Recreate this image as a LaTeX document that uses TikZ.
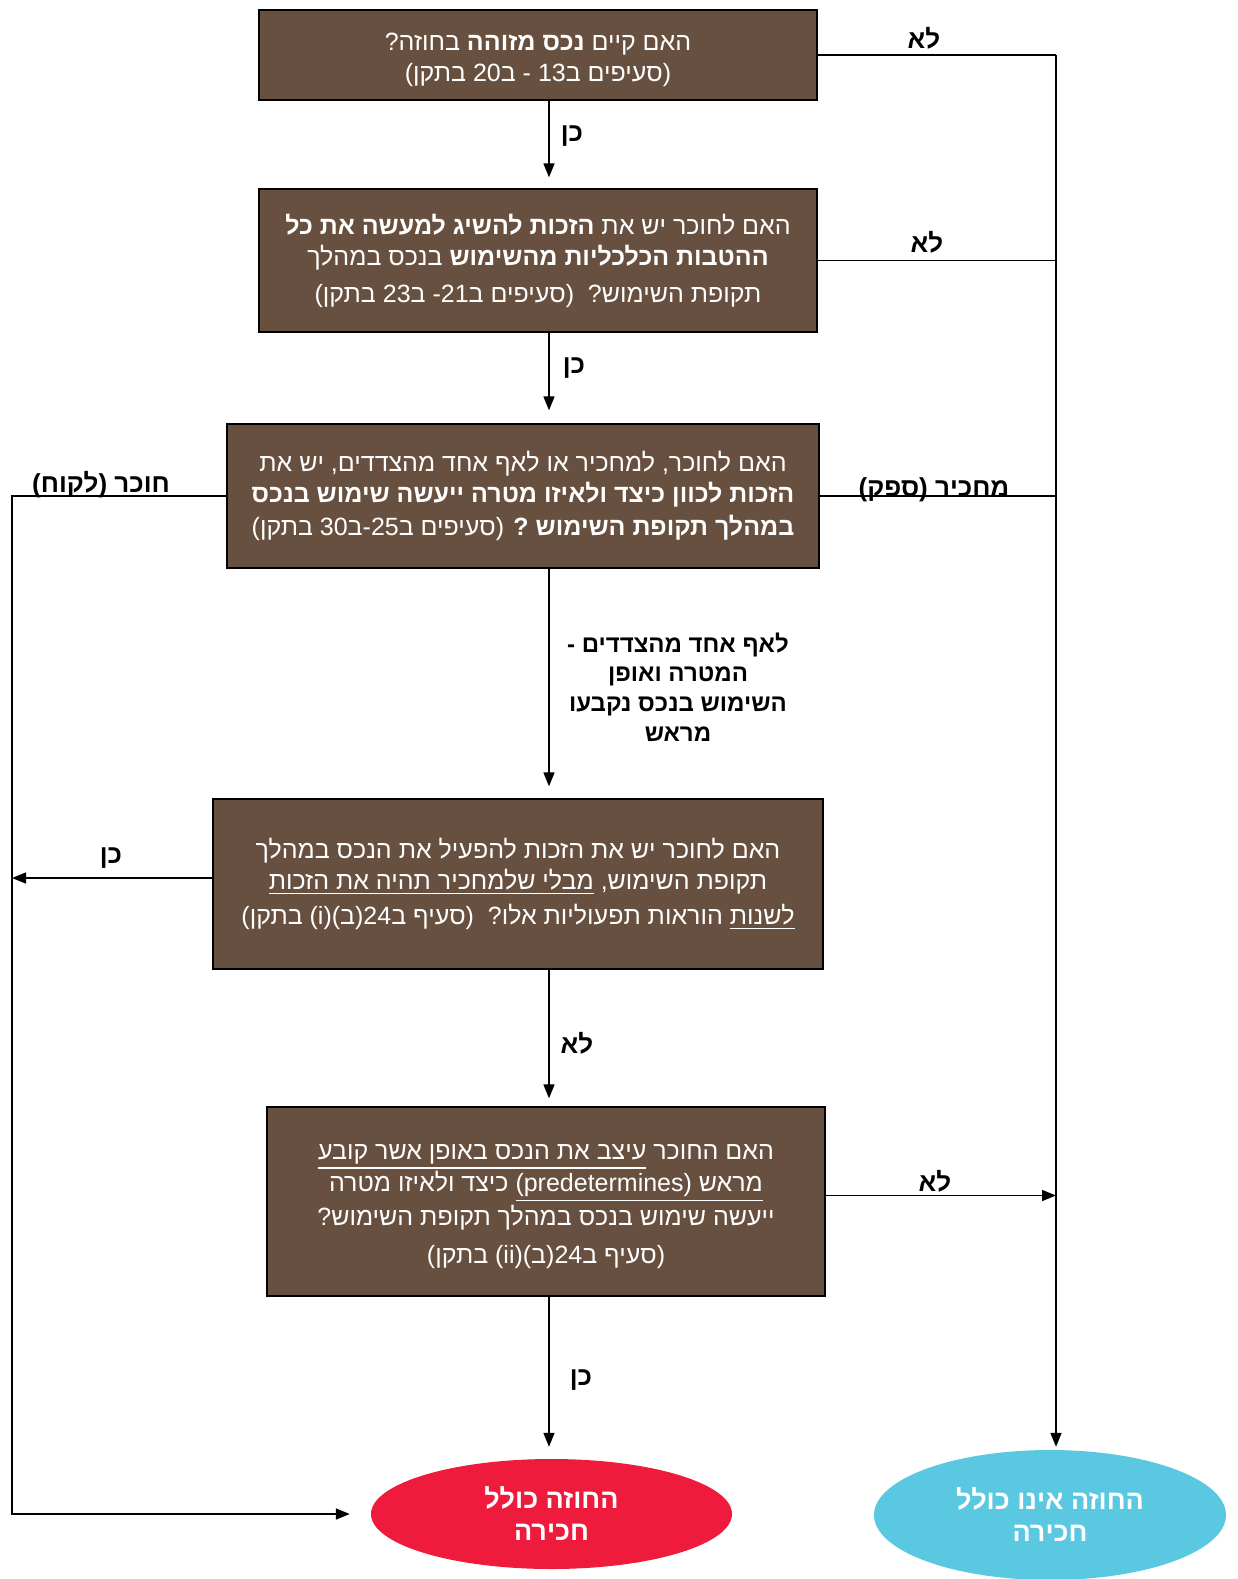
\documentclass[tikz,border=0pt]{standalone}
\usepackage{fontspec}
\setmainfont{Liberation Sans}
\newfontfamily\heb[Script=Hebrew]{Liberation Sans}
\TeXXeTstate=1
\usetikzlibrary{arrows.meta,shapes.geometric}
\definecolor{boxbrown}{RGB}{104,80,64}
\definecolor{ellred}{RGB}{238,27,60}
\definecolor{ellblue}{RGB}{91,200,226}
\setlength{\lineskiplimit}{-20pt}
\newcommand\RL[1]{\beginR#1\endR}
\newcommand\ulR[1]{\setbox0\hbox{\beginR#1\endR}\vtop{\copy0\kern2.5pt\hrule height1.6pt}}
\tikzset{
  qbox/.style={draw=black, line width=1.3pt, fill=boxbrown, text=white, align=center, inner sep=0pt,
    font=\heb\fontsize{25}{31}\selectfont},
  lbl/.style={font=\heb\bfseries\fontsize{26}{30}\selectfont, text=black, align=center, inner sep=0pt},
  ell/.style={ellipse, inner sep=0pt, text=white, align=center, font=\heb\bfseries\fontsize{27}{32}\selectfont},
  ln/.style={line width=1.6pt},
  arr/.style={line width=1.6pt, -{Triangle[length=14pt,width=11pt]}}
}
\begin{document}
\begin{tikzpicture}[x=1pt,y=-1pt]
\useasboundingbox (0,0) rectangle (1238,1579);
% boxes
\node[qbox, minimum width=558pt, minimum height=90pt] (b1) at (538,55)
 {\RL{\rule{0pt}{28pt}האם קיים {\bfseries נכס מזוהה} בחוזה?}\\
  \RL{(סעיפים ב13 - ב20 בתקן)}};
\node[qbox, minimum width=558pt, minimum height=143pt] (b2) at (538,260.5)
 {\RL{האם לחוכר יש את {\bfseries הזכות להשיג למעשה את כל}}\\
  \RL{{\bfseries ההטבות הכלכליות מהשימוש} בנכס במהלך}\\[6pt]
  \RL{תקופת השימוש?\ \ (סעיפים ב21- ב23 בתקן)}};
\node[qbox, minimum width=592pt, minimum height=144pt] (b3) at (523,496)
 {\RL{האם לחוכר, למחכיר או לאף אחד מהצדדים, יש את}\\
  \RL{{\bfseries הזכות לכוון כיצד ולאיזו מטרה ייעשה שימוש בנכס}}\\[2pt]
  \RL{{\bfseries במהלך תקופת השימוש ?} (סעיפים ב25-ב30 בתקן)}};
\node[qbox, minimum width=610pt, minimum height=170pt] (b4) at (518,884)
 {\RL{האם לחוכר יש את הזכות להפעיל את הנכס במהלך}\\
  \RL{תקופת השימוש, \ulR{מבלי שלמחכיר תהיה את הזכות}}\\[4pt]
  \RL{\ulR{לשנות} הוראות תפעוליות אלו?\ \ (סעיף ב24(ב)(i) בתקן)}};
\node[qbox, minimum width=558pt, minimum height=189pt] (b5) at (546,1201.5)
 {\RL{\rule{0pt}{26pt}האם החוכר \ulR{עיצב את הנכס באופן אשר קובע}}\\[1pt]
  \RL{\ulR{מראש (predetermines)} כיצד ולאיזו מטרה}\\[3pt]
  \RL{ייעשה שימוש בנכס במהלך תקופת השימוש?}\\[7pt]
  \RL{(סעיף ב24(ב)(ii) בתקן)}};
% ellipses
\node[ell, fill=ellred, minimum width=361pt, minimum height=110pt] (red) at (551.5,1514)
 {\RL{החוזה כולל}\\\RL{חכירה}};
\node[ell, fill=ellblue, minimum width=352pt, minimum height=130pt] (blue) at (1050,1515)
 {\RL{החוזה אינו כולל}\\\RL{חכירה}};
% helper columns
\coordinate (cx) at (549,0);
\coordinate (rx) at (1056,0);
\coordinate (lx) at (12,0);
% vertical main flow
\draw[arr, shorten >=11pt] (b1.south -| cx) -- (b2.north -| cx);
\draw[arr, shorten >=13pt] (b2.south -| cx) -- (b3.north -| cx);
\draw[arr, shorten >=12pt] (b3.south -| cx) -- (b4.north -| cx);
\draw[arr, shorten >=8pt] (b4.south -| cx) -- (b5.north -| cx);
\draw[arr, shorten >=12pt] (b5.south -| cx) -- (red.north -| cx);
% right side
\draw[ln] (b1.east) -- (b1.east -| rx);
\draw[arr, shorten >=3pt] (b1.east -| rx) -- (rx |- blue.north);
\draw[ln] (b2.east) -- (b2.east -| rx);
\draw[ln] (b3.east) -- (b3.east -| rx);
\draw[arr] ([yshift=6pt]b5.east) -- ([yshift=6pt]b5.east -| rx);
% left side
\draw[arr, shorten >=21pt] (b3.west) -- (b3.west -| lx) -- (lx |- red.west) -- (red.west);
\draw[arr] ([yshift=6pt]b4.west) -- ([yshift=6pt]b4.west -| lx);
% labels
\node[lbl] (l1) at (924,38) {\RL{לא}};
\node[lbl] (l2) at (927,242) {\RL{לא}};
\node[lbl] (l3) at (934,490) {\RL{מחכיר (ספק)}};
\node[lbl] (l4) at (935,1181) {\RL{לא}};
\node[lbl] (l5) at (101,485) {\RL{חוכר (לקוח)}};
\node[lbl] (l6) at (111,858) {\RL{כן}};
\node[lbl] (l7) at (572,136) {\RL{כן}};
\node[lbl] (l8) at (574,368) {\RL{כן}};
\node[lbl, font=\heb\bfseries\fontsize{24}{29.7}\selectfont] (l9) at (678,687)
 {\RL{לאף אחד מהצדדים -}\\\RL{המטרה ואופן}\\\RL{השימוש בנכס נקבעו}\\\RL{מראש}};
\node[lbl] (l10) at (577,1043) {\RL{לא}};
\node[lbl] (l11) at (581,1380) {\RL{כן}};
\end{tikzpicture}
\end{document}
